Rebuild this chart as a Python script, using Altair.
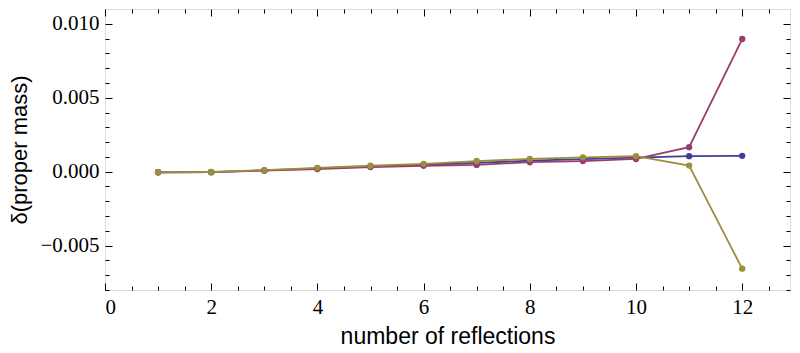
import altair as alt
import pandas as pd

reflections = [1, 2, 3, 4, 5, 6, 7, 8, 9, 10, 11, 12]
series_a = [-0.00004, -0.00003, 0.00009, 0.00022, 0.00035, 0.00047, 0.00059, 0.00075, 0.00085, 0.00095, 0.00105, 0.00107]
series_b = [-0.00004, -0.00003, 0.00007, 0.00018, 0.00031, 0.00040, 0.00046, 0.00064, 0.00072, 0.00086, 0.00166, 0.00897]
series_c = [-0.00004, -0.00002, 0.00011, 0.00026, 0.00040, 0.00053, 0.00072, 0.00086, 0.00097, 0.00105, 0.00041, -0.00656]
series_names = ["A", "B", "C"]
series_colors = ["#3f3d99", "#993d71", "#998f3d"]

x_major = [0, 2, 4, 6, 8, 10, 12]
x_minor = [v / 2 for v in range(0, 26) if v % 4 != 0]
y_major = [-0.005, 0.0, 0.005, 0.010]
y_minor = [v / 1000 for v in range(-8, 11) if v % 5 != 0]

rows = []
for name, vals in zip(series_names, [series_a, series_b, series_c]):
    for n, v in zip(reflections, vals):
        rows.append({"n": n, "value": v, "series": name})
df = pd.DataFrame(rows)

W, H = 685, 281
xscale = alt.Scale(domain=[0, 12.9], nice=False, zero=False)
yscale = alt.Scale(domain=[-0.0080, 0.0110], nice=False, zero=False)
color = alt.Color("series:N", scale=alt.Scale(domain=series_names, range=series_colors), legend=None)

label_font = "Liberation Serif"
title_font = "Liberation Sans"

main_x = alt.Axis(orient="bottom", values=x_major, ticks=False, domain=False, grid=False,
                  labelFont=label_font, labelFontSize=21, labelColor="black", labelPadding=6,
                  title="number of reflections", titleFont=title_font, titleFontSize=23,
                  titleFontWeight="normal", titleColor="black", titlePadding=8)
main_y = alt.Axis(orient="left", values=y_major, ticks=False, domain=False, grid=False,
                  format=".3f", labelFont=label_font, labelFontSize=21, labelColor="black",
                  labelPadding=6, title="δ(proper mass)", titleFont=title_font, titleFontSize=22,
                  titleFontWeight="normal", titleColor="black", titlePadding=8)

base = alt.Chart(df)
lines = base.mark_line(strokeWidth=1.8).encode(
    x=alt.X("n:Q", scale=xscale, axis=main_x),
    y=alt.Y("value:Q", scale=yscale, axis=main_y),
    color=color,
    detail="series:N",
)
points = base.mark_circle(size=40, opacity=1).encode(
    x=alt.X("n:Q", scale=xscale, axis=None),
    y=alt.Y("value:Q", scale=yscale, axis=None),
    color=color,
)


def tick_axis(vals, size, orient, offset):
    return alt.Axis(orient=orient, offset=offset, values=vals, tickSize=size, tickColor="black",
                    tickWidth=1, labels=False, domain=False, grid=False, title=None)


def tick_layer(xaxis=None, yaxis=None):
    return base.mark_point(opacity=0).encode(
        x=alt.X("n:Q", scale=xscale, axis=xaxis),
        y=alt.Y("value:Q", scale=yscale, axis=yaxis),
    )


tick_layers = [
    tick_layer(xaxis=tick_axis(x_major, 7, "top", -H)),
    tick_layer(xaxis=tick_axis(x_minor, 4, "top", -H)),
    tick_layer(xaxis=tick_axis(x_major, 7, "bottom", -H)),
    tick_layer(xaxis=tick_axis(x_minor, 4, "bottom", -H)),
    tick_layer(yaxis=tick_axis(y_major, 7, "right", -W)),
    tick_layer(yaxis=tick_axis(y_minor, 4, "right", -W)),
    tick_layer(yaxis=tick_axis(y_major, 7, "left", -W)),
    tick_layer(yaxis=tick_axis(y_minor, 4, "left", -W)),
]

chart = alt.layer(lines, points, *tick_layers).resolve_axis(
    x="independent", y="independent"
).properties(
    width=W, height=H
).configure_view(
    stroke="black", strokeWidth=1
).configure(background="white", padding=0)

chart.save("out.html", embed_options={"renderer": "svg", "actions": False})
